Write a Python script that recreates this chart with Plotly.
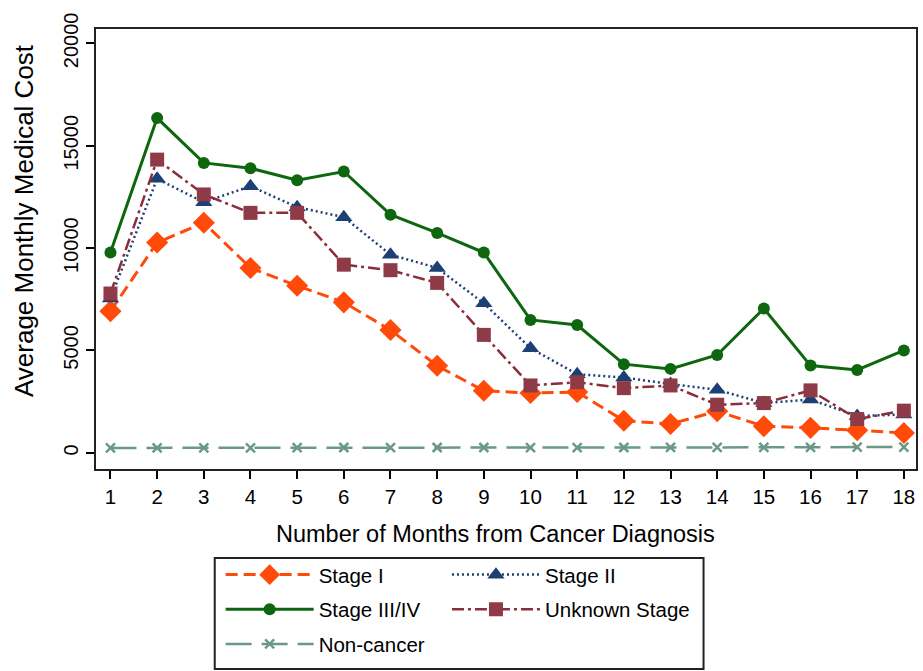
import plotly.graph_objects as go

months = list(range(1, 19))
stage_i = [6920, 10270, 11240, 9030, 8160, 7350, 6000, 4250, 3030, 2920, 2970, 1570, 1410, 2030, 1300, 1220, 1100, 970]
stage_ii = [7540, 13380, 12240, 13020, 12000, 11510, 9680, 9030, 7300, 5110, 3840, 3680, 3360, 3080, 2430, 2600, 1800, 1870]
stage_iii_iv = [9780, 16350, 14160, 13900, 13310, 13740, 11630, 10740, 9780, 6490, 6240, 4330, 4100, 4780, 7050, 4260, 4050, 5000]
unknown = [7780, 14320, 12620, 11720, 11720, 9190, 8920, 8300, 5760, 3290, 3450, 3160, 3290, 2350, 2430, 3050, 1650, 2060]
non_cancer = [240, 240, 240, 240, 250, 260, 250, 260, 260, 250, 250, 260, 270, 270, 270, 270, 280, 280]

FONT = "Arial, Liberation Sans, Helvetica, sans-serif"

fig = go.Figure()

fig.add_trace(go.Scatter(
    x=months, y=stage_i, name="Stage I", mode="lines+markers", legend="legend", legendgroup="a",
    line=dict(color="#FF4A0A", width=3, dash="12px,6px"),
    marker=dict(symbol="diamond", size=17, color="#FF4A0A")))
fig.add_trace(go.Scatter(
    x=months, y=stage_iii_iv, name="Stage III/IV", mode="lines+markers", legend="legend", legendgroup="b",
    line=dict(color="#0E660E", width=3),
    marker=dict(symbol="circle", size=12, color="#0E660E")))
fig.add_trace(go.Scatter(
    x=months, y=non_cancer, name="Non-cancer", mode="lines+markers", legend="legend", legendgroup="c",
    line=dict(color="#6A9985", width=2.5, dash="26px,10px"),
    marker=dict(symbol="x-thin", size=9, color="#6A9985", line=dict(width=2.5, color="#6A9985"))))
fig.add_trace(go.Scatter(
    x=months, y=stage_ii, name="Stage II", mode="lines+markers", legend="legend2", legendgroup="d",
    line=dict(color="#1C3F74", width=2.5, dash="2px,3px"),
    marker=dict(symbol="triangle-up", size=15, color="#1C3F74")))
fig.add_trace(go.Scatter(
    x=months, y=unknown, name="Unknown Stage", mode="lines+markers", legend="legend2", legendgroup="e",
    line=dict(color="#8A2E3C", width=2.5, dash="12px,4px,3px,4px"),
    marker=dict(symbol="square", size=14, color="#8E3A47")))

fig.update_layout(
    width=923, height=671,
    margin=dict(l=96, r=5, t=29, b=202),
    paper_bgcolor="white", plot_bgcolor="white",
    font=dict(family=FONT, color="black", size=20),
    legend=dict(x=0.152, y=-0.195, xanchor="left", yanchor="top", orientation="v",
                itemwidth=88, font=dict(size=20.5, family=FONT), bgcolor="rgba(0,0,0,0)",
                tracegroupgap=5, traceorder="grouped"),
    legend2=dict(x=0.428, y=-0.195, xanchor="left", yanchor="top", orientation="v",
                 itemwidth=88, font=dict(size=20.5, family=FONT), bgcolor="rgba(0,0,0,0)",
                 tracegroupgap=5, traceorder="grouped"),
    showlegend=True,
)

fig.update_xaxes(
    range=[0.69, 18.26], tickmode="array", tickvals=months, ticktext=[str(m) for m in months],
    ticks="outside", ticklen=8, tickwidth=1.5, tickcolor="black",
    showline=True, linecolor="#222", linewidth=2, mirror=True,
    showgrid=False, zeroline=False, tickfont=dict(size=20.5, family=FONT),
)
fig.update_yaxes(
    range=[-790, 20700], tickvals=[0, 5000, 10000, 15000, 20000],
    ticktext=["0", "5000", "10000", "15000", "20000"], tickangle=-90,
    ticks="outside", ticklen=8, tickwidth=1.5, tickcolor="black",
    showline=True, linecolor="#222", linewidth=2, mirror=True,
    showgrid=False, zeroline=False, tickfont=dict(size=20, family=FONT),
)

fig.add_annotation(text="Number of Months from Cancer Diagnosis", xref="paper", yref="paper",
                   x=0.487, y=-0.147, xanchor="center", yanchor="middle", showarrow=False,
                   font=dict(size=23.5, family=FONT))
fig.add_annotation(text="Average Monthly Medical Cost", xref="paper", yref="paper",
                   x=-0.087, y=0.565, xanchor="center", yanchor="middle", showarrow=False,
                   textangle=-90, font=dict(size=26, family=FONT))

fig.add_shape(type="rect", xref="paper", yref="paper",
              x0=0.1448, x1=0.7409, y0=-0.2023, y1=-0.4545,
              line=dict(color="#222", width=2), fillcolor="rgba(0,0,0,0)")

fig.write_html("out.html", config={"displayModeBar": False},
               post_script="document.body.style.margin='0';")
